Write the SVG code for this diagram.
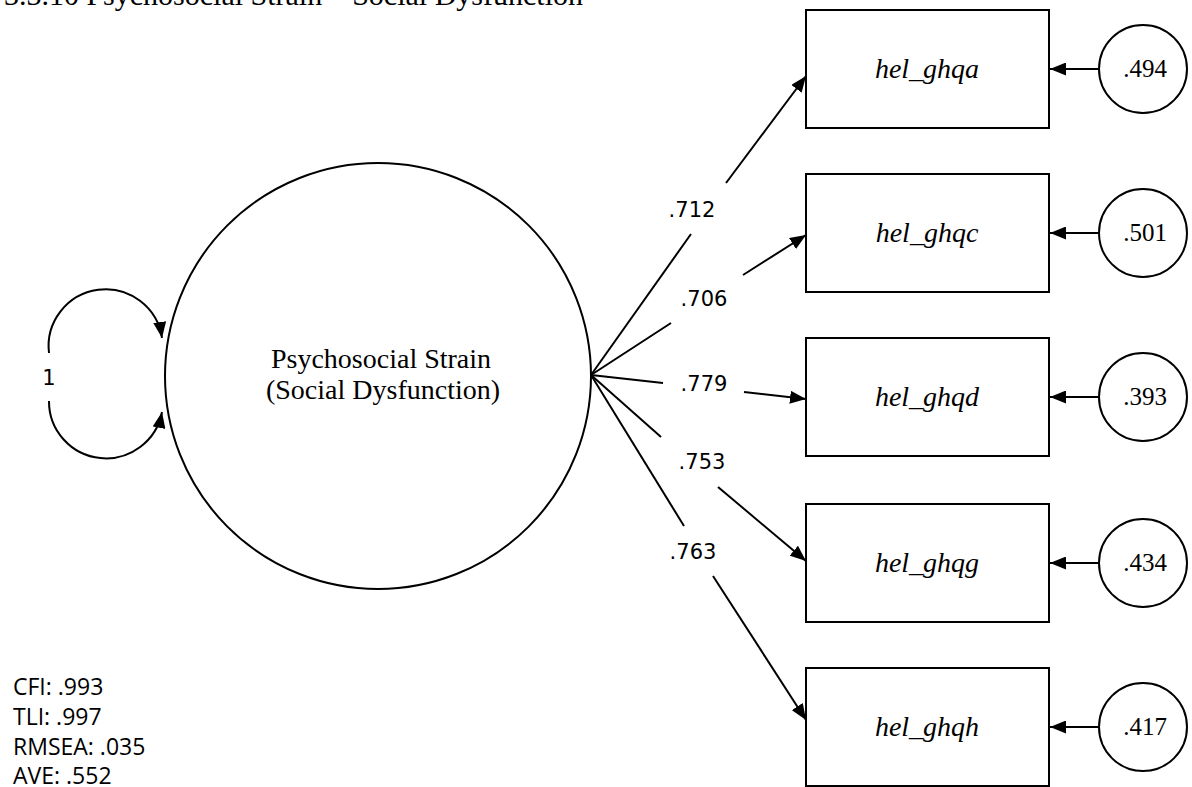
<svg xmlns="http://www.w3.org/2000/svg" width="1192" height="787" viewBox="0 0 1192 787">
<defs>
<marker id="ah" markerUnits="userSpaceOnUse" markerWidth="17" markerHeight="13" refX="16" refY="6.5" orient="auto">
<path d="M0,0 L16,6.5 L0,13 z" fill="#000"/>
</marker>
<style>
.ln{fill:none;stroke:#000;stroke-width:2}
.ar{fill:none;stroke:#000;stroke-width:2;marker-end:url(#ah)}
.bx{fill:#fff;stroke:#000;stroke-width:2}
.ser{font-family:"Liberation Serif","Times New Roman",serif;fill:#000}
.san{font-family:"DejaVu Sans",sans-serif;fill:#000;font-size:21px}
.fit{font-family:"Open Sans","Liberation Sans",sans-serif;fill:#000;font-size:23px}
</style>
</defs>
<rect width="1192" height="787" fill="#fff"/>
<text class="ser" x="583" y="5" text-anchor="end" font-size="30">3.3.10 Psychosocial Strain – Social Dysfunction</text>

<g id="latent">
<circle cx="378" cy="376" r="213" class="bx"/>
<text class="ser" x="381" y="368" text-anchor="middle" font-size="28">Psychosocial Strain</text>
<text class="ser" x="383" y="399" text-anchor="middle" font-size="28">(Social Dysfunction)</text>
</g>

<g id="connectors">
<path class="ar" d="M49,353 A57,57 0 0 1 162,338"/>
<path class="ar" d="M49,401 A57,57 0 0 0 162,412"/>
<text class="san" x="49" y="385" text-anchor="middle">1</text>

<path class="ln" d="M591,375 L691,234"/>
<path class="ar" d="M726,183 L806,76"/>
<path class="ln" d="M591,375 L671,323"/>
<path class="ar" d="M743,275 L806,235"/>
<path class="ln" d="M591,375 L663,383"/>
<path class="ar" d="M744,392 L806,399"/>
<path class="ln" d="M591,375 L661,437"/>
<path class="ar" d="M718,487 L806,561"/>
<path class="ln" d="M591,375 L684,526"/>
<path class="ar" d="M713,576 L806,720"/>

<text class="san" x="692" y="217" text-anchor="middle">.712</text>
<text class="san" x="704" y="306" text-anchor="middle">.706</text>
<text class="san" x="704" y="391" text-anchor="middle">.779</text>
<text class="san" x="702" y="469" text-anchor="middle">.753</text>
<text class="san" x="693" y="559" text-anchor="middle">.763</text>

<path class="ar" d="M1099,69 L1050,69"/>
<path class="ar" d="M1099,233 L1050,233"/>
<path class="ar" d="M1099,397 L1050,397"/>
<path class="ar" d="M1099,563 L1050,563"/>
<path class="ar" d="M1099,727 L1050,727"/>
</g>

<g id="hel_ghqa">
<rect x="806" y="10" width="243" height="118" class="bx"/>
<text class="ser" x="927" y="78" text-anchor="middle" font-size="28" font-style="italic">hel_ghqa</text>
</g>
<g id="hel_ghqc">
<rect x="806" y="174" width="243" height="118" class="bx"/>
<text class="ser" x="927" y="242" text-anchor="middle" font-size="28" font-style="italic">hel_ghqc</text>
</g>
<g id="hel_ghqd">
<rect x="806" y="338" width="243" height="118" class="bx"/>
<text class="ser" x="927" y="406" text-anchor="middle" font-size="28" font-style="italic">hel_ghqd</text>
</g>
<g id="hel_ghqg">
<rect x="806" y="504" width="243" height="118" class="bx"/>
<text class="ser" x="927" y="572" text-anchor="middle" font-size="28" font-style="italic">hel_ghqg</text>
</g>
<g id="hel_ghqh">
<rect x="806" y="668" width="243" height="118" class="bx"/>
<text class="ser" x="927" y="736" text-anchor="middle" font-size="28" font-style="italic">hel_ghqh</text>
</g>

<g id="e1"><circle cx="1143" cy="69" r="44" class="bx"/><text class="ser" x="1145" y="77" text-anchor="middle" font-size="25">.494</text></g>
<g id="e2"><circle cx="1143" cy="233" r="44" class="bx"/><text class="ser" x="1145" y="241" text-anchor="middle" font-size="25">.501</text></g>
<g id="e3"><circle cx="1143" cy="397" r="44" class="bx"/><text class="ser" x="1145" y="405" text-anchor="middle" font-size="25">.393</text></g>
<g id="e4"><circle cx="1143" cy="563" r="44" class="bx"/><text class="ser" x="1145" y="571" text-anchor="middle" font-size="25">.434</text></g>
<g id="e5"><circle cx="1143" cy="727" r="44" class="bx"/><text class="ser" x="1145" y="735" text-anchor="middle" font-size="25">.417</text></g>

<g id="fit">
<text class="fit" x="13" y="695">CFI: .993</text>
<text class="fit" x="13" y="725">TLI: .997</text>
<text class="fit" x="13" y="755">RMSEA: .035</text>
<text class="fit" x="13" y="784">AVE: .552</text>
</g>
</svg>
